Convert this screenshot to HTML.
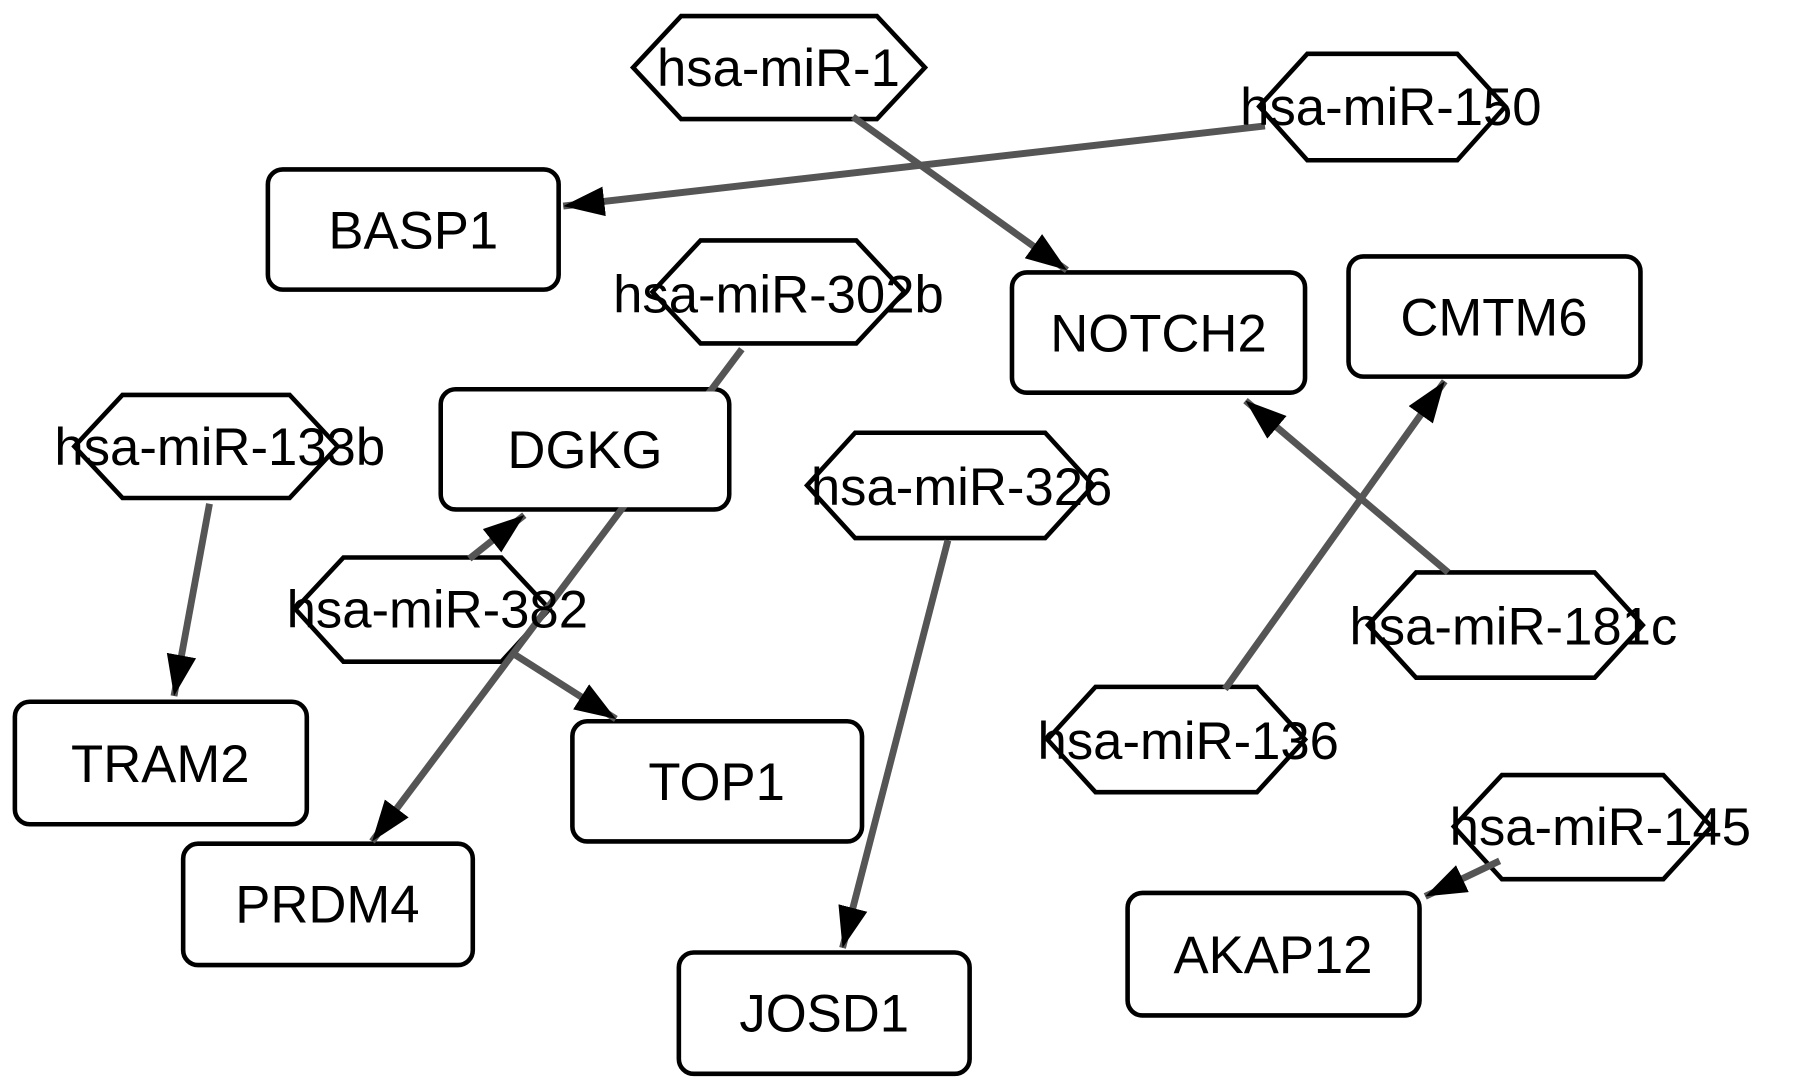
<!DOCTYPE html>
<html><head><meta charset="utf-8"><style>html,body{margin:0;padding:0;background:#fff}svg{display:block}</style></head>
<body>
<svg width="1795" height="1091" viewBox="0 0 1568 953" preserveAspectRatio="none" xmlns="http://www.w3.org/2000/svg">
<defs>
<marker id="a" markerUnits="userSpaceOnUse" markerWidth="40" markerHeight="30" refX="36" refY="13" orient="auto">
<path d="M0,0 L36,13 L0,26 Z" fill="#000"/>
</marker>
</defs>
<g fill="#fff" stroke="#000" stroke-width="4">
<!-- hexagons -->
<polygon points="553,59 595,14 766,14 808,59 766,104 595,104"/>
<polygon points="1100,93 1142,47 1273,47 1315,93 1273,140 1142,140"/>
<polygon points="570,255 612,210 748,210 790,255 748,300 612,300"/>
<polygon points="65,390 107,345 253,345 295,390 253,435 107,435"/>
<polygon points="705,424 747,378 913,378 955,424 913,470 747,470"/>
<polygon points="258,532 300,487 438,487 480,532 438,578 300,578"/>
<polygon points="1195,546 1237,500 1393,500 1435,546 1393,592 1237,592"/>
<polygon points="915,646 957,600 1098,600 1140,646 1098,692 957,692"/>
<polygon points="1270,722 1312,677 1453,677 1495,722 1453,768 1312,768"/>
<!-- rects -->
<rect x="234" y="148" width="254" height="105" rx="13"/>
<rect x="884" y="238" width="256" height="105" rx="13"/>
<rect x="1178" y="224" width="255" height="105" rx="13"/>
<rect x="385" y="340" width="252" height="105" rx="13"/>
<rect x="13" y="613" width="255" height="107" rx="13"/>
<rect x="500" y="630" width="253" height="105" rx="13"/>
<rect x="160" y="737" width="253" height="106" rx="13"/>
<rect x="985" y="780" width="255" height="107" rx="13"/>
<rect x="593" y="832" width="254" height="106" rx="13"/>
</g>
<g stroke="#555" stroke-width="6" fill="none" marker-end="url(#a)">
<line x1="745" y1="102" x2="932" y2="236"/>
<line x1="1105" y1="110" x2="492" y2="180"/>
<line x1="648" y1="305" x2="325" y2="735"/>
<line x1="410" y1="488" x2="458" y2="450"/>
<line x1="450" y1="572" x2="538" y2="628"/>
<line x1="183" y1="440" x2="152" y2="608"/>
<line x1="828" y1="472" x2="736" y2="828"/>
<line x1="1265" y1="500" x2="1088" y2="350"/>
<line x1="1070" y1="602" x2="1262" y2="333"/>
<line x1="1310" y1="752" x2="1245" y2="783"/>
</g>
<rect x="387" y="342" width="248" height="101" rx="12" fill="#fff"/>
<g font-family="'Liberation Sans', sans-serif" font-size="46" text-anchor="middle" fill="#000">
<text x="680" y="75">hsa-miR-1</text>
<text x="1215" y="109">hsa-miR-150</text>
<text x="680" y="273">hsa-miR-302b</text>
<text x="192" y="406">hsa-miR-133b</text>
<text x="840" y="441">hsa-miR-326</text>
<text x="382" y="548">hsa-miR-382</text>
<text x="1322" y="563">hsa-miR-181c</text>
<text x="1038" y="663">hsa-miR-136</text>
<text x="1398" y="738">hsa-miR-145</text>
<text x="361" y="217">BASP1</text>
<text x="1012" y="307">NOTCH2</text>
<text x="1305" y="293">CMTM6</text>
<text x="511" y="409">DGKG</text>
<text x="140" y="683">TRAM2</text>
<text x="626" y="699">TOP1</text>
<text x="286" y="806">PRDM4</text>
<text x="1112" y="850">AKAP12</text>
<text x="720" y="901">JOSD1</text>
</g>
</svg>
</body></html>
